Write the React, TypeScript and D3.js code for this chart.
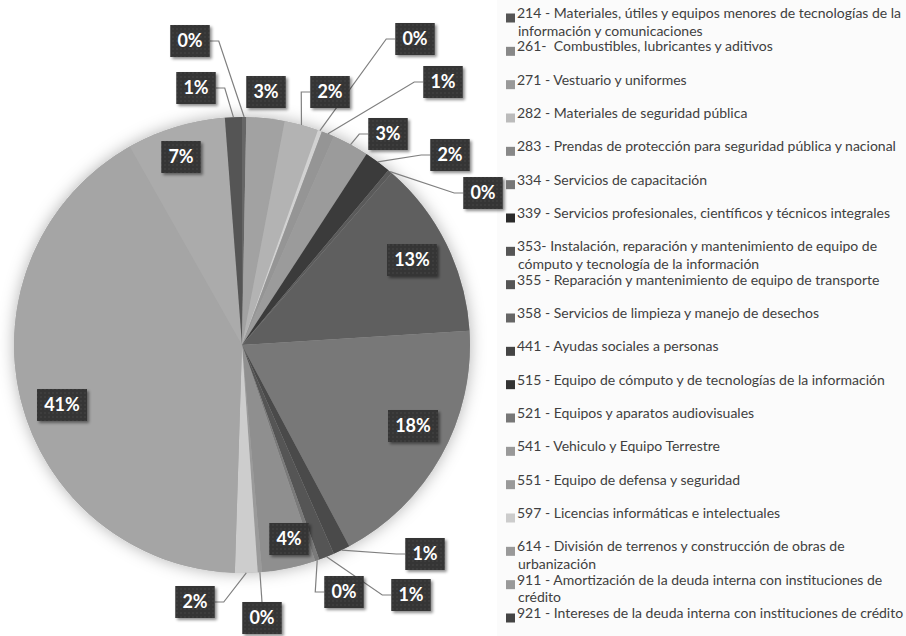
import * as d3 from "d3";

// legend entries, in slice order (clockwise from 12 o'clock)
const categories = [
  "214 - Materiales, útiles y equipos menores de tecnologías de la\ninformación y comunicaciones",
  "261-  Combustibles, lubricantes y aditivos",
  "271 - Vestuario y uniformes",
  "282 - Materiales de seguridad pública",
  "283 - Prendas de protección para seguridad pública y nacional",
  "334 - Servicios de capacitación",
  "339 - Servicios profesionales, científicos y técnicos integrales",
  "353- Instalación, reparación y mantenimiento de equipo de\ncómputo y tecnología de la información",
  "355 - Reparación y mantenimiento de equipo de transporte",
  "358 - Servicios de limpieza y manejo de desechos",
  "441 - Ayudas sociales a personas",
  "515 - Equipo de cómputo y de tecnologías de la información",
  "521 - Equipos y aparatos audiovisuales",
  "541 - Vehiculo y Equipo Terrestre",
  "551 - Equipo de defensa y seguridad",
  "597 - Licencias informáticas e intelectuales",
  "614 - División de terrenos y construcción de obras de\nurbanización",
  "911 - Amortización de la deuda interna con instituciones de\ncrédito",
  "921 - Intereses de la deuda interna con instituciones de crédito",
];

// share of total (%)
const values = [
  0.3, 2.7, 2.4, 0.3, 0.9, 2.6, 1.9, 0.3, 12.6, 18.2, 1.2, 1.1, 0.3, 3.8, 0.3,
  1.6, 41.3, 7.0, 1.2,
];

// grey shades of slices and legend markers
const sliceColors = [
  "#666666", "#a2a2a2", "#b3b3b3", "#d2d2d2", "#959595", "#9b9b9b", "#3b3b3b",
  "#5a5a5a", "#5f5f5f", "#787878", "#4a4a4a", "#555555", "#7a7a7a", "#8f8f8f",
  "#9a9a9a", "#cdcdcd", "#a5a5a5", "#ababab", "#555555",
];
const markerColors = [
  "#555555", "#888888", "#999999", "#bbbbbb", "#888888", "#777777", "#2a2a2a",
  "#555555", "#555555", "#666666", "#444444", "#333333", "#777777", "#999999",
  "#999999", "#cccccc", "#999999", "#999999", "#444444",
];

// data label box centres (x, y) and whether a leader line is drawn
const labelLayout: [number, number, boolean][] = [
  [190, 41, true],
  [266, 92, false],
  [330, 92, true],
  [415, 39, true],
  [443, 82, true],
  [388, 134, true],
  [450, 155, true],
  [483, 193, true],
  [412, 260, false],
  [413, 426, false],
  [425, 554, true],
  [411, 595, true],
  [344, 592, true],
  [289, 539, false],
  [262, 618, true],
  [195, 602, true],
  [62, 405, false],
  [181, 157, false],
  [196, 88, true],
];

const W = 906;
const H = 636;
const cx = 242;
const cy = 345;
const R = 228;
const FONT = "Lato, 'Open Sans', sans-serif";

export default function App() {
  const total = d3.sum(values);
  const pie = d3
    .pie<number>()
    .sort(null)
    .value((d) => d);
  const arcs = pie(values);
  const arcGen = d3.arc<d3.PieArcDatum<number>>().innerRadius(0).outerRadius(R);

  const legendY = d3
    .scaleLinear()
    .domain([0, categories.length - 1])
    .range([18, 618]);

  const boxH = 32;
  const boxW = (txt: string) => 14 + (txt.length - 1) * 10.5 + 15;
  const pct = (v: number) => `${Math.round((v / total) * 100)}%`;

  return (
    <svg
      width={W}
      height={H}
      style={{ position: "absolute", left: 0, top: 0, background: "#ffffff" }}
    >
      <defs>
        <filter id="pieShadow" x="-20%" y="-20%" width="140%" height="140%">
          <feDropShadow dx="0" dy="0" stdDeviation="8" floodColor="#000" floodOpacity="0.3" />
        </filter>
        <filter id="boxShadow" x="-30%" y="-30%" width="160%" height="160%">
          <feDropShadow dx="2" dy="2" stdDeviation="1.6" floodColor="#000" floodOpacity="0.45" />
        </filter>
        <pattern id="dots" width="4" height="4" patternUnits="userSpaceOnUse">
          <rect width="4" height="4" fill="#363636" />
          <circle cx="1" cy="1" r="0.8" fill="#484848" />
        </pattern>
      </defs>

      <rect x={497} y={0} width={W - 497} height={H} fill="#fbfbfb" />

      {/* pie */}
      <g transform={`translate(${cx},${cy})`}>
        <circle r={R} fill="#a5a5a5" filter="url(#pieShadow)" />
        {arcs.map((a, i) => (
          <path key={i} d={arcGen(a) || ""} fill={sliceColors[i]} />
        ))}
      </g>

      {/* leader lines */}
      {arcs.map((a, i) => {
        const [bx, by, lead] = labelLayout[i];
        if (!lead) return null;
        const mid = (a.startAngle + a.endAngle) / 2;
        const ex = cx + R * Math.sin(mid);
        const ey = cy - R * Math.cos(mid);
        const hw = boxW(pct(values[i])) / 2;
        let pts: [number, number][];
        if (Math.abs(ex - bx) > hw + 4) {
          const dir = ex < bx ? -1 : 1;
          const sx = bx + dir * hw;
          pts = [
            [sx, by],
            [sx + dir * 9, by],
            [ex, ey],
          ];
        } else {
          const sy = ey < by ? by - boxH / 2 : by + boxH / 2;
          pts = [
            [bx, sy],
            [ex, ey],
          ];
        }
        return (
          <path
            key={i}
            d={d3.line()(pts) || ""}
            fill="none"
            stroke="#7f7f7f"
            strokeWidth={1.2}
          />
        );
      })}

      {/* data labels */}
      {arcs.map((a, i) => {
        const [bx, by] = labelLayout[i];
        const txt = pct(values[i]);
        const w = boxW(txt);
        return (
          <g key={i}>
            <rect
              x={bx - w / 2}
              y={by - boxH / 2}
              width={w}
              height={boxH}
              fill="url(#dots)"
              filter="url(#boxShadow)"
            />
            <text
              x={bx}
              y={by}
              dy="0.36em"
              textAnchor="middle"
              fill="#ffffff"
              fontFamily={FONT}
              fontWeight={700}
              fontSize={18}
            >
              {txt}
            </text>
          </g>
        );
      })}

      {/* legend */}
      {categories.map((c, i) => {
        const y = legendY(i);
        const lines = c.split("\n");
        return (
          <g key={i}>
            <rect x={506} y={y - 4.5} width={9} height={9} fill={markerColors[i]} />
            <text
              x={517}
              y={y}
              dy="0.36em"
              fill="#404040"
              fontFamily={FONT}
              fontSize={14}
              style={{ whiteSpace: "pre" }}
            >
              {lines.map((l, k) => (
                <tspan key={k} x={k === 0 ? 517 : 518} dy={k === 0 ? 0 : 17.5}>
                  {l}
                </tspan>
              ))}
            </text>
          </g>
        );
      })}
    </svg>
  );
}
